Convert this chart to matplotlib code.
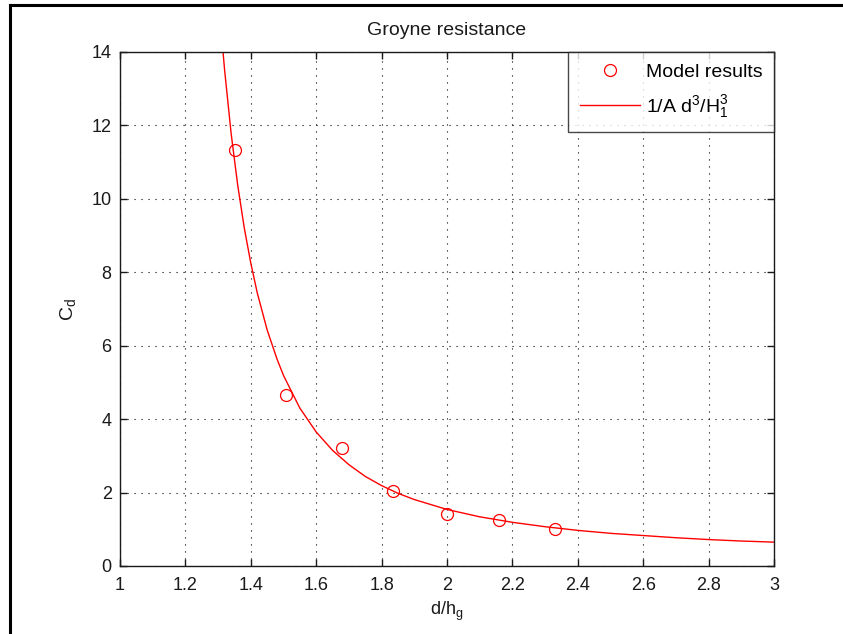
import matplotlib
matplotlib.use("Agg")
import matplotlib.pyplot as plt
from matplotlib.lines import Line2D

plt.rcParams["font.family"] = ["Liberation Sans", "DejaVu Sans"]
plt.rcParams["mathtext.fontset"] = "custom"
plt.rcParams["mathtext.rm"] = "Liberation Sans"
plt.rcParams["mathtext.it"] = "Liberation Sans"

# Measured drag coefficients
model_x = [1.352, 1.507, 1.678, 1.836, 2.000, 2.160, 2.330]
model_cd = [11.33, 4.66, 3.22, 2.04, 1.42, 1.25, 1.02]

# Fitted curve 1/A d^3/H1^3
fit_x = [1.31, 1.32, 1.34, 1.36, 1.38, 1.40, 1.42, 1.45, 1.48, 1.50, 1.55,
         1.60, 1.65, 1.70, 1.75, 1.80, 1.85, 1.90, 2.00, 2.10, 2.20, 2.30,
         2.40, 2.50, 2.60, 2.70, 2.80, 2.90, 3.00]
fit_cd = [14.51, 13.50, 11.77, 10.37, 9.21, 8.25, 7.43, 6.43, 5.64, 5.19, 4.30,
          3.65, 3.15, 2.76, 2.44, 2.19, 1.98, 1.81, 1.54, 1.34, 1.19, 1.07,
          0.97, 0.89, 0.83, 0.77, 0.72, 0.68, 0.65]

x_ticks = [1, 1.2, 1.4, 1.6, 1.8, 2, 2.2, 2.4, 2.6, 2.8, 3]
x_tick_labels = ["1", "1.2", "1.4", "1.6", "1.8", "2", "2.2", "2.4", "2.6", "2.8", "3"]
y_ticks = [0, 2, 4, 6, 8, 10, 12, 14]
y_tick_labels = ["0", "2", "4", "6", "8", "10", "12", "14"]

W, H = 843, 634
fig = plt.figure(figsize=(W / 100, H / 100), dpi=100)
ax = fig.add_axes([120 / W, (H - 566) / H, (774 - 120) / W, (566 - 52) / H])

fs = 13
fs_big = 14
ax.plot(model_x, model_cd, linestyle="none", marker="o", markersize=8.6,
        markerfacecolor="none", markeredgecolor="#ff0000", markeredgewidth=0.9,
        label="Model results")
ax.plot(fit_x, fit_cd, color="#ff0000", linewidth=1.0,
        label=r"$\mathregular{1/A\ d^3/H_1^3}$")

ax.set_xlim(1, 3)
ax.set_ylim(0, 14)
ax.set_xticks(x_ticks)
ax.set_xticklabels(x_tick_labels)
ax.set_yticks(y_ticks)
ax.set_yticklabels(y_tick_labels)
ax.tick_params(direction="in", length=5, width=1.0, top=True, right=True,
               labelsize=fs, colors="#1a1a1a", labelcolor="#1a1a1a")
ax.tick_params(axis="x", pad=8)
ax.tick_params(axis="y", pad=6)
for sp in ax.spines.values():
    sp.set_linewidth(1.0)
    sp.set_color("#1a1a1a")

ax.grid(True, color="black", linestyle=(0, (1, 5.3)), linewidth=0.8)

ax.set_title("Groyne resistance", fontsize=fs_big, pad=12, color="#1a1a1a")
ax.set_xlabel(r"$\mathregular{d/h_g}$", fontsize=fs, labelpad=4, color="#1a1a1a")
ax.set_ylabel(r"$\mathregular{C_d}$", fontsize=fs_big, labelpad=10, color="#1a1a1a")

leg = ax.legend(loc="upper right", bbox_to_anchor=(1, 1), borderaxespad=0,
                fontsize=fs_big, frameon=True, fancybox=False, handlelength=3.1,
                labelspacing=0.6, handletextpad=0.3, borderpad=0.6)
leg.get_frame().set_edgecolor("#1a1a1a")
leg.get_frame().set_linewidth(1.0)

# Outer frame of the figure window
fig.add_artist(Line2D([10 / W, 1], [1 - 5 / H, 1 - 5 / H], color="black",
                      linewidth=2.2, transform=fig.transFigure))
fig.add_artist(Line2D([10 / W, 10 / W], [0, 1 - 5 / H], color="black",
                      linewidth=2.2, transform=fig.transFigure))

fig.savefig("out.png", dpi=100)
